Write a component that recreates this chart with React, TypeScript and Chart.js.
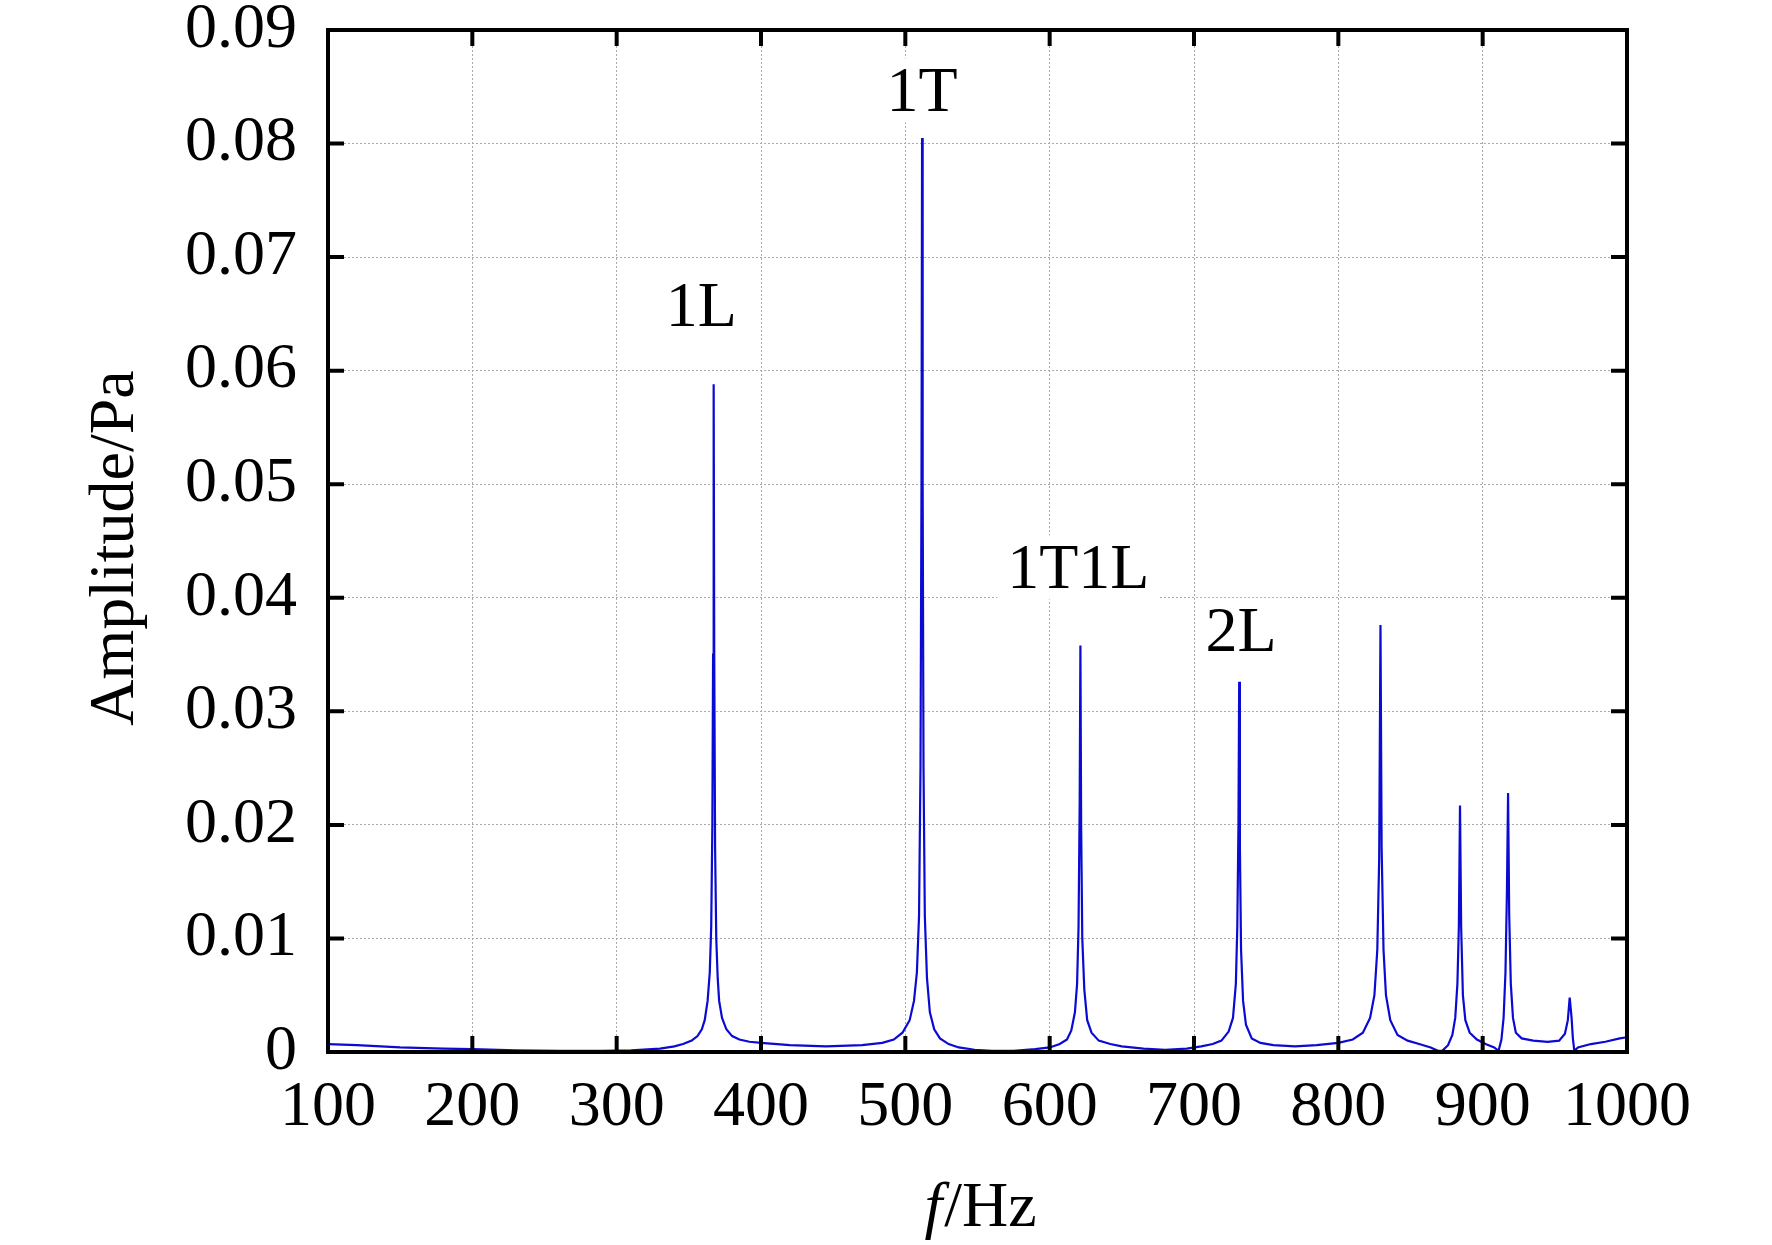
import React, { useEffect, useRef } from "react";
import { Chart, registerables } from "chart.js";

Chart.register(...registerables);

// Frequency (Hz) and amplitude (Pa)
const freqHz = [
  100, 120, 150, 180, 200, 230, 260, 290, 310, 330, 340, 346, 352, 356, 359, 361, 363, 364.5, 365.5, 366.3, 366.8, 367.2,
  367.6, 368.2, 369, 370, 371, 373, 376, 380, 385, 392, 400, 420, 445, 470, 484, 492, 498, 503, 506, 508, 509.5, 510.5,
  511.2, 511.6, 512, 512.6, 513.5, 515, 517, 520, 524, 530, 537, 548, 560, 575, 590, 600, 607, 612, 615, 617.5, 619, 620,
  620.8, 621.3, 621.8, 622.6, 624, 626, 629, 634, 642, 650, 665, 680, 695, 705, 713, 719, 724, 727, 729, 730, 730.8, 731.3,
  731.8, 732.6, 734, 736, 740, 746, 755, 770, 785, 800, 810, 817, 822, 825, 827, 828.3, 829.2, 830, 831.3, 833, 836, 841,
  848, 856, 864, 869, 872, 876, 879, 881, 882.5, 883.5, 884.3, 885.1, 886.3, 888, 891, 896, 902, 908, 911, 913, 914.5,
  915.8, 916.8, 917.6, 918.4, 919.5, 921, 923, 927, 935, 945, 953, 957, 959, 960.3, 961.6, 962.5, 963.5, 966, 975, 985,
  995, 1000,
];
const amplitudePa = [
  0.0007, 0.0006, 0.0004, 0.0003, 0.00025, 0.00015, 0.0001, 0.0001, 0.00015, 0.0003, 0.0005, 0.0007, 0.001, 0.0014, 0.002,
  0.0028, 0.0045, 0.007, 0.011, 0.02, 0.035, 0.0588, 0.035, 0.018, 0.01, 0.0065, 0.0045, 0.003, 0.002, 0.0014, 0.0011,
  0.0009, 0.0008, 0.0006, 0.0005, 0.0006, 0.0008, 0.0011, 0.0017, 0.0028, 0.0045, 0.007, 0.012, 0.025, 0.05, 0.0805, 0.05,
  0.025, 0.012, 0.0065, 0.0035, 0.002, 0.0012, 0.0007, 0.0004, 0.0002, 0.0001, 0.0001, 0.00025, 0.0004, 0.0007, 0.0011,
  0.0019, 0.0035, 0.006, 0.011, 0.022, 0.0358, 0.02, 0.01, 0.0055, 0.0028, 0.0017, 0.001, 0.0007, 0.0005, 0.0003, 0.0002,
  0.0003, 0.0005, 0.0007, 0.001, 0.0018, 0.003, 0.006, 0.011, 0.02, 0.0326, 0.018, 0.009, 0.0045, 0.0024, 0.0012, 0.0008,
  0.0006, 0.0005, 0.0006, 0.0008, 0.0011, 0.0017, 0.003, 0.005, 0.009, 0.017, 0.0376, 0.018, 0.009, 0.005, 0.0028, 0.0015,
  0.001, 0.0007, 0.0004, 0.0001, 0.0001, 0.0006, 0.0015, 0.003, 0.006, 0.011, 0.0217, 0.011, 0.005, 0.0028, 0.0017, 0.0011,
  0.0007, 0.0004, 0.0001, 0.0011, 0.003, 0.007, 0.014, 0.0228, 0.012, 0.006, 0.003, 0.0017, 0.0012, 0.001, 0.0009, 0.001,
  0.0016, 0.0028, 0.0048, 0.003, 0.0012, 0.0001, 0.0004, 0.0007, 0.0009, 0.0012, 0.0013,
];

// Mode annotations (text, anchor frequency, anchor amplitude)
const modeLabels = ["1L", "1T", "1T1L", "2L"];
const modeLabelHz = [358.7, 511.6, 619.8, 732.6];
const modeLabelPa = [0.0656, 0.0845, 0.0425, 0.037];

const X_MIN = 100;
const X_MAX = 1000;
const X_STEP = 100;
const Y_MIN = 0;
const Y_MAX = 0.09;
const Y_STEP = 0.01;

const xTitleItalic = "f";
const xTitleRest = "/Hz";
const yTitle = "Amplitude/Pa";

const FONT = '"Liberation Serif", "Times New Roman", Times, serif';
const FONT_SIZE = 64;

const framePlugin = {
  id: "frameAndText",
  afterDraw(chart: any) {
    const { ctx, chartArea: a, scales } = chart;
    const x = scales.x;
    const y = scales.y;
    ctx.save();

    // mode labels with white background
    ctx.font = `${FONT_SIZE}px ${FONT}`;
    ctx.textAlign = "center";
    ctx.textBaseline = "middle";
    modeLabels.forEach((t, i) => {
      const cx = x.getPixelForValue(modeLabelHz[i]);
      const cy = y.getPixelForValue(modeLabelPa[i]);
      const w = ctx.measureText(t).width;
      ctx.fillStyle = "#ffffff";
      ctx.fillRect(cx - w / 2 - 10, cy - 34, w + 20, 64);
      ctx.fillStyle = "#000000";
      ctx.fillText(t, cx, cy + 2);
    });

    // frame
    ctx.strokeStyle = "#000000";
    ctx.lineWidth = 4;
    ctx.strokeRect(a.left, a.top, a.right - a.left, a.bottom - a.top);

    // inward ticks on all four sides
    const tl = 16;
    ctx.beginPath();
    x.ticks.forEach((t: any) => {
      const px = x.getPixelForValue(t.value);
      ctx.moveTo(px, a.bottom);
      ctx.lineTo(px, a.bottom - tl);
      ctx.moveTo(px, a.top);
      ctx.lineTo(px, a.top + tl);
    });
    y.ticks.forEach((t: any) => {
      const py = y.getPixelForValue(t.value);
      ctx.moveTo(a.left, py);
      ctx.lineTo(a.left + tl, py);
      ctx.moveTo(a.right, py);
      ctx.lineTo(a.right - tl, py);
    });
    ctx.stroke();

    // x title: italic f + /Hz
    ctx.fillStyle = "#000000";
    ctx.textBaseline = "alphabetic";
    ctx.textAlign = "left";
    const italicFont = `italic ${FONT_SIZE}px ${FONT}`;
    const normalFont = `${FONT_SIZE}px ${FONT}`;
    ctx.font = italicFont;
    const w1 = ctx.measureText(xTitleItalic).width;
    ctx.font = normalFont;
    const w2 = ctx.measureText(xTitleRest).width;
    const cxT = (a.left + a.right) / 2 + 2;
    const startX = cxT - (w1 + w2) / 2;
    const baseY = a.bottom + 174;
    ctx.font = italicFont;
    ctx.fillText(xTitleItalic, startX, baseY);
    ctx.font = normalFont;
    ctx.fillText(xTitleRest, startX + w1 + 2, baseY);

    // y title rotated
    ctx.translate(116, (a.top + a.bottom) / 2 + 7);
    ctx.rotate(-Math.PI / 2);
    ctx.textAlign = "center";
    ctx.textBaseline = "middle";
    ctx.font = normalFont;
    ctx.fillText(yTitle, 0, 0);

    ctx.restore();
  },
};

export default function App() {
  const canvasRef = useRef<HTMLCanvasElement | null>(null);

  useEffect(() => {
    if (!canvasRef.current) return;
    const points = freqHz.map((f, i) => ({ x: f, y: amplitudePa[i] }));
    const chart = new Chart(canvasRef.current, {
      type: "line",
      data: {
        datasets: [
          {
            data: points,
            borderColor: "#0a0ad2",
            borderWidth: 2.2,
            pointRadius: 0,
            tension: 0,
            fill: false,
          },
        ],
      },
      options: {
        animation: false,
        responsive: false,
        devicePixelRatio: 1,
        parsing: false as any,
        layout: { padding: { top: 30, right: 145, left: 0, bottom: 0 } },
        plugins: {
          legend: { display: false },
          tooltip: { enabled: false },
          title: { display: false },
        },
        scales: {
          x: {
            type: "linear",
            min: X_MIN,
            max: X_MAX,
            afterFit: (s: any) => {
              s.height = 193;
              s.paddingLeft = 0;
              s.paddingRight = 0;
              s.paddingTop = 0;
              s.paddingBottom = 0;
            },
            afterBuildTicks: (s: any) => {
              const arr = [];
              for (let v = X_MIN; v <= X_MAX; v += X_STEP) arr.push({ value: v });
              s.ticks = arr;
            },
            ticks: {
              color: "#000000",
              font: { family: FONT, size: FONT_SIZE, lineHeight: 0.9 },
              padding: 27,
              maxRotation: 0,
              autoSkip: false,
              callback: (v: any) => String(v),
            },
            grid: {
              color: "#a8a8a8",
              lineWidth: 1,
              drawTicks: false,
            },
            border: { display: false, dash: [2, 2] },
          },
          y: {
            type: "linear",
            min: Y_MIN,
            max: Y_MAX,
            afterFit: (s: any) => {
              s.width = 328;
              s.paddingLeft = 0;
              s.paddingRight = 0;
              s.paddingTop = 0;
              s.paddingBottom = 0;
            },
            afterBuildTicks: (s: any) => {
              const arr = [];
              for (let i = 0; i <= Math.round((Y_MAX - Y_MIN) / Y_STEP); i++) arr.push({ value: +(Y_MIN + i * Y_STEP).toFixed(4) });
              s.ticks = arr;
            },
            ticks: {
              color: "#000000",
              font: { family: FONT, size: FONT_SIZE, lineHeight: 0.9 },
              padding: 31,
              autoSkip: false,
              callback: (v: any) => (Number(v) === 0 ? "0" : Number(v).toFixed(2)),
            },
            grid: {
              color: "#a8a8a8",
              lineWidth: 1,
              drawTicks: false,
            },
            border: { display: false, dash: [2, 2] },
          },
        },
      },
      plugins: [framePlugin],
    });
    return () => chart.destroy();
  }, []);

  return (
    <div style={{ position: "absolute", left: 0, top: 0, width: 1772, height: 1245, background: "#ffffff" }}>
      <canvas ref={canvasRef} width={1772} height={1245} style={{ width: 1772, height: 1245, display: "block" }} />
    </div>
  );
}
